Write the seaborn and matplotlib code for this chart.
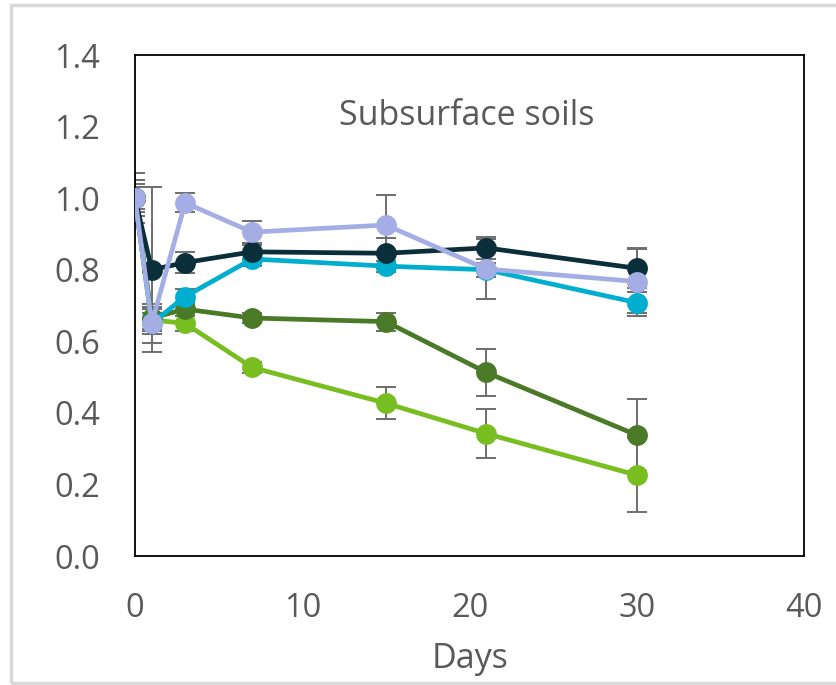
import numpy as np
import pandas as pd
import matplotlib
matplotlib.use("Agg")
import matplotlib.pyplot as plt
from matplotlib.patches import Rectangle
import seaborn as sns

# Sampling days
days = [0, 1, 3, 7, 15, 21, 30]

# Relative values per treatment (normalised to day 0)
light_green = [1.00, 0.66, 0.65, 0.527, 0.427, 0.342, 0.226]
dark_green = [1.00, 0.665, 0.69, 0.665, 0.655, 0.513, 0.338]
cyan = [1.00, 0.65, 0.725, 0.83, 0.81, 0.80, 0.708]
navy = [1.00, 0.80, 0.82, 0.85, 0.846, 0.861, 0.804]
lavender = [1.00, 0.65, 0.987, 0.905, 0.925, 0.802, 0.767]

# Standard errors
light_green_err = [0.03, 0.03, 0.02, 0.015, 0.045, 0.068, 0.104]
dark_green_err = [0.05, 0.03, 0.02, 0.015, 0.025, 0.065, 0.10]
cyan_err = [0.04, 0.03, 0.02, 0.02, 0.015, 0.02, 0.03]
navy_err = [0.05, 0.23, 0.03, 0.02, 0.043, 0.03, 0.055]
lavender_err = [0.07, 0.055, 0.027, 0.03, 0.085, 0.084, 0.095]

series_names = ["light_green", "dark_green", "cyan", "navy", "lavender"]
series_vals = [light_green, dark_green, cyan, navy, lavender]
series_errs = [light_green_err, dark_green_err, cyan_err, navy_err, lavender_err]
palette = {
    "light_green": "#78BE21",
    "dark_green": "#4A7A28",
    "cyan": "#00AECF",
    "navy": "#0B2F3A",
    "lavender": "#A4AEE4",
}

x_ticks = [0, 10, 20, 30, 40]
y_ticks = [0.0, 0.2, 0.4, 0.6, 0.8, 1.0, 1.2, 1.4]

df = pd.DataFrame({
    "Days": np.tile(days, len(series_names)),
    "value": np.concatenate(series_vals),
    "series": np.repeat(series_names, len(days)),
})

sns.set_style("white")
plt.rcParams["font.family"] = ["Open Sans", "DejaVu Sans"]

fig = plt.figure(figsize=(8.37, 6.85), dpi=100)
ax = fig.add_axes([0.1613, 0.1883, 0.7993, 0.7314])

# error bars beneath the series
for vals, errs in zip(series_vals, series_errs):
    ax.errorbar(days, vals, yerr=errs, fmt="none", ecolor="#6E6E6E",
                elinewidth=1.4, capsize=7, capthick=1.4, zorder=1)

for i, name in enumerate(series_names):
    sub = df[df["series"] == name]
    sns.lineplot(data=sub, x="Days", y="value", ax=ax, color=palette[name],
                 linewidth=3.4, marker="o", markersize=15,
                 markeredgewidth=0, legend=False, zorder=3 + i)

ax.set_xlim(0, 40)
ax.set_ylim(0, 1.4)
ax.set_xticks(x_ticks)
ax.set_yticks(y_ticks)
ax.set_xticklabels([str(t) for t in x_ticks])
ax.set_yticklabels([f"{t:.1f}" for t in y_ticks])
ax.tick_params(axis="both", direction="out", length=9, width=1.2,
               colors="black", labelcolor="#595959", labelsize=23.5)
ax.tick_params(axis="x", pad=17)
ax.tick_params(axis="y", pad=16)
ax.set_xlabel("Days", fontsize=24.5, color="#595959", labelpad=12)
ax.set_ylabel("")
for sp in ax.spines.values():
    sp.set_visible(True)
    sp.set_color("black")
    sp.set_linewidth(1.3)

ax.text(0.496, 0.860, "Subsurface soils", transform=ax.transAxes,
        ha="center", va="baseline", fontsize=24.5, color="#595959")

# light grey outer frame of the chart area
fig.patches.append(Rectangle((11 / 837, 2 / 685), 830 / 837, 678 / 685,
                             transform=fig.transFigure, fill=False,
                             edgecolor="#D9D9D9", linewidth=2.5))

fig.savefig("out.png", dpi=100)
